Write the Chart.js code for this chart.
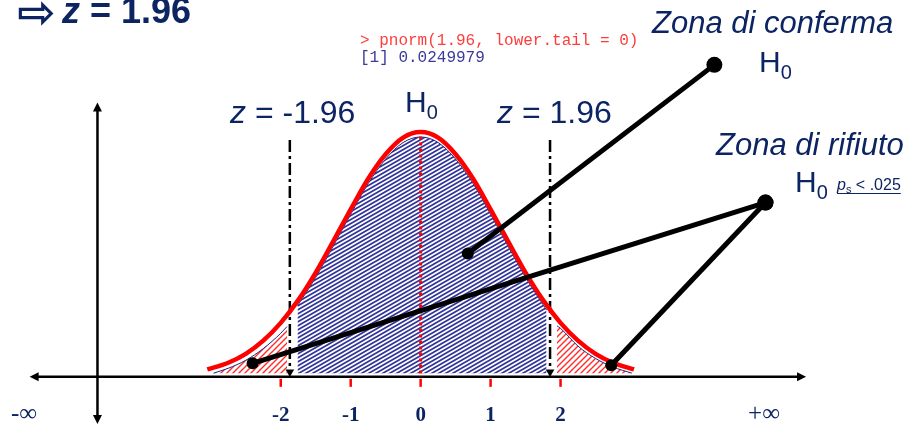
<!DOCTYPE html>
<html><head><meta charset="utf-8">
<script src="https://cdn.jsdelivr.net/npm/chart.js@4/dist/chart.umd.min.js"></script>
<style>html,body{margin:0;padding:0;background:#fff}#wrap{width:912px;height:432px;position:relative}</style>
</head><body><div id="wrap"><canvas id="c"></canvas></div>
<script>
// ---- data (x in z units, y in density units) ----
const curveX = [-3.05,-2.75,-2.5,-2.25,-2,-1.75,-1.5,-1.25,-1,-0.75,-0.5,-0.25,0,0.25,0.5,0.75,1,1.25,1.5,1.75,2,2.25,2.5,2.75,3.05];
const curveY = [0.012,0.023,0.0375,0.059,0.088,0.125,0.170,0.221,0.273,0.323,0.363,0.390,0.399,0.390,0.363,0.323,0.273,0.221,0.170,0.125,0.088,0.059,0.0375,0.023,0.012];
const acceptX = [-1.76,-1.5,-1.25,-1,-0.75,-0.5,-0.25,0,0.25,0.5,0.75,1,1.25,1.5,1.8];
const acceptY = [0.116,0.162,0.213,0.265,0.315,0.355,0.382,0.391,0.382,0.355,0.315,0.265,0.213,0.162,0.109];
const leftTailX = [-2.96,-2.75,-2.5,-2.25,-2,-1.91];
const leftTailY = [0.006,0.014,0.027,0.046,0.071,0.082];
const rightTailX = [1.95,2,2.25,2.5,2.75,3.02];
const rightTailY = [0.083,0.079,0.050,0.030,0.016,0.006];
const regionBase = 0.006;
const criticalX = [-1.87, 1.85];
const criticalTop = 0.386;
const criticalBottom = 0.008;
const centerTop = 0.392;
const tickValues = [-2,-1,0,1,2];
const tickLabels = ['-2','-1','0','1','2'];
const confermaLink = [[4.199,0.5086],[0.674,0.2009]];
const rifiutoLinkL = [[4.930,0.2841],[-2.402,0.0220]];
const rifiutoLinkR = [[4.930,0.2841],[2.725,0.0188]];
const hAxis = [-5.59, 5.51];
const vAxisX = -4.62;
const vAxisY = [-0.0769, 0.4474];

const NAVY = '#0d2463';
const zip = (xs, ys) => xs.map((x, i) => ({x, y: ys[i]}));
const link = l => l.map(p => ({x: p[0], y: p[1]}));

function makePattern(w, h, color, lw, bg) {
  const c = document.createElement('canvas'); c.width = w; c.height = h;
  const g = c.getContext('2d');
  g.fillStyle = bg; g.fillRect(0, 0, w, h);
  g.strokeStyle = color; g.lineWidth = lw; g.beginPath();
  for (const k of [-1, 0, 1]) { g.moveTo(-1, h + k*h + h/w); g.lineTo(w + 1, k*h - h/w); }
  g.stroke();
  return g.createPattern(c, 'repeat');
}
const ctx0 = document.getElementById('c').getContext('2d');
const bluePat = makePattern(7, 4, '#30349a', 1.7, '#ffffff');
const redPat = makePattern(6, 6, '#ff2a2a', 1.4, '#ffffff');

function runs(ctx, x, y, parts) {
  for (const p of parts) {
    ctx.font = p.font; ctx.fillStyle = p.color || NAVY;
    ctx.fillText(p.t, x, y + (p.dy || 0));
    x += ctx.measureText(p.t).width;
  }
  return x;
}

const decor = {
  id: 'decor',
  beforeDatasetsDraw(chart) {
    const {ctx, scales: {x, y}} = chart;
    ctx.save();
    ctx.strokeStyle = '#000'; ctx.fillStyle = '#000'; ctx.lineWidth = 2.5;
    const y0 = y.getPixelForValue(0);
    const xl = x.getPixelForValue(hAxis[0]), xr = x.getPixelForValue(hAxis[1]);
    ctx.beginPath(); ctx.moveTo(xl + 6, y0); ctx.lineTo(xr - 6, y0); ctx.stroke();
    ctx.beginPath(); ctx.moveTo(xl, y0); ctx.lineTo(xl + 9, y0 - 4.5); ctx.lineTo(xl + 9, y0 + 4.5); ctx.closePath(); ctx.fill();
    ctx.beginPath(); ctx.moveTo(xr, y0); ctx.lineTo(xr - 9, y0 - 4.5); ctx.lineTo(xr - 9, y0 + 4.5); ctx.closePath(); ctx.fill();
    const vx = x.getPixelForValue(vAxisX);
    const vt = y.getPixelForValue(vAxisY[1]), vb = y.getPixelForValue(vAxisY[0]);
    ctx.beginPath(); ctx.moveTo(vx, vt + 6); ctx.lineTo(vx, vb - 4); ctx.stroke();
    ctx.beginPath(); ctx.moveTo(vx, vt); ctx.lineTo(vx - 4.5, vt + 9); ctx.lineTo(vx + 4.5, vt + 9); ctx.closePath(); ctx.fill();
    ctx.beginPath(); ctx.moveTo(vx, vb); ctx.lineTo(vx - 4.5, vb - 9); ctx.lineTo(vx + 4.5, vb - 9); ctx.closePath(); ctx.fill();
    // red ticks
    ctx.strokeStyle = '#ff0000'; ctx.lineWidth = 2.5;
    for (const v of tickValues) {
      const px = x.getPixelForValue(v);
      ctx.beginPath(); ctx.moveTo(px, y0 + 2); ctx.lineTo(px, y0 + 10); ctx.stroke();
    }
    ctx.restore();
  },
  afterDraw(chart) {
    const {ctx, scales: {x}} = chart;
    ctx.save();
    ctx.textBaseline = 'alphabetic';
    // tick labels
    ctx.textAlign = 'center'; ctx.fillStyle = NAVY;
    ctx.font = 'bold 21px "Liberation Serif"';
    tickValues.forEach((v, i) => ctx.fillText(tickLabels[i], x.getPixelForValue(v), 421));
    ctx.font = '25px "Liberation Serif"';
    ctx.fillText('-\u221E', 24, 421);
    ctx.fillText('+\u221E', 764, 421);
    ctx.textAlign = 'left';
    // title
    runs(ctx, 17, 28, [{t: '\u21E8', font: 'bold 46px "DejaVu Sans"'}]);
    runs(ctx, 62, 23, [{t: 'z', font: 'italic bold 36px "Liberation Sans"'}, {t: ' = 1.96', font: 'bold 36px "Liberation Sans"'}]);
    // R console
    ctx.font = '16px "Liberation Mono"';
    ctx.fillStyle = '#ff3b3b'; ctx.fillText('> pnorm(1.96, lower.tail = 0)', 360, 45);
    ctx.fillStyle = '#3a3a9a'; ctx.fillText('[1] 0.0249979', 360, 62);
    // critical labels
    runs(ctx, 230, 123, [{t: 'z', font: 'italic 32px "Liberation Sans"'}, {t: ' = -1.96', font: '32px "Liberation Sans"'}]);
    runs(ctx, 497, 123, [{t: 'z', font: 'italic 32px "Liberation Sans"'}, {t: ' = 1.96', font: '32px "Liberation Sans"'}]);
    // H0 labels
    const H0 = (px, py) => runs(ctx, px, py, [{t: 'H', font: '30px "Liberation Sans"'}, {t: '0', font: '20px "Liberation Sans"', dy: 7}]);
    H0(405, 112);
    H0(759, 72);
    H0(795, 192);
    // zona texts
    runs(ctx, 652, 33, [{t: 'Zona di conferma', font: 'italic 31px "Liberation Sans"'}]);
    runs(ctx, 716, 155, [{t: 'Zona di rifiuto', font: 'italic 31px "Liberation Sans"'}]);
    // p_s < .025 underlined
    const sx = 837;
    const ex = runs(ctx, sx, 190, [
      {t: 'p', font: 'italic 16px "Liberation Sans"'},
      {t: 's', font: '11px "Liberation Sans"', dy: 3},
      {t: ' < .025', font: '16px "Liberation Sans"'}
    ]);
    ctx.strokeStyle = NAVY; ctx.lineWidth = 1;
    ctx.beginPath(); ctx.moveTo(sx, 193.5); ctx.lineTo(ex, 193.5); ctx.stroke();
    ctx.restore();
  }
};

const blackLink = (data, order) => ({
  data: link(data), borderColor: '#000', borderWidth: 5, pointRadius: [8, 6],
  pointBackgroundColor: '#000', pointBorderWidth: 0, fill: false, order
});

new Chart(ctx0, {
  type: 'line',
  data: {
    datasets: [
      blackLink(confermaLink, 0),
      blackLink(rifiutoLinkL, 0),
      blackLink(rifiutoLinkR, 0),
      { data: zip(curveX, curveY), borderColor: '#ff0000', borderWidth: 4.5, pointRadius: 0,
        cubicInterpolationMode: 'monotone', fill: false, order: 1 },
      { data: [{x: criticalX[0], y: criticalTop}, {x: criticalX[0], y: criticalBottom}],
        borderColor: '#000', borderWidth: 2.5, borderDash: [12, 4, 3, 4], pointRadius: [0, 5],
        pointStyle: 'triangle', pointRotation: 180, pointBackgroundColor: '#000', pointBorderWidth: 0, fill: false, order: 2 },
      { data: [{x: criticalX[1], y: criticalTop}, {x: criticalX[1], y: criticalBottom}],
        borderColor: '#000', borderWidth: 2.5, borderDash: [12, 4, 3, 4], pointRadius: [0, 5],
        pointStyle: 'triangle', pointRotation: 180, pointBackgroundColor: '#000', pointBorderWidth: 0, fill: false, order: 2 },
      { data: [{x: 0, y: centerTop}, {x: 0, y: 0}], borderColor: '#ff0000', borderWidth: 3,
        borderDash: [3, 3], pointRadius: 0, fill: false, order: 3 },
      { data: zip(acceptX, acceptY), borderColor: '#1f2a80', borderWidth: 1, pointRadius: 0,
        cubicInterpolationMode: 'monotone', backgroundColor: bluePat, fill: {value: regionBase}, order: 4 },
      { data: zip(leftTailX, leftTailY), borderColor: '#1f2a80', borderWidth: 1, pointRadius: 0,
        cubicInterpolationMode: 'monotone', backgroundColor: redPat, fill: {value: regionBase}, order: 4 },
      { data: zip(rightTailX, rightTailY), borderColor: '#1f2a80', borderWidth: 1, pointRadius: 0,
        cubicInterpolationMode: 'monotone', backgroundColor: redPat, fill: {value: regionBase}, order: 4 }
    ]
  },
  options: {
    responsive: true, maintainAspectRatio: false, animation: false, events: [],
    layout: {padding: 0},
    plugins: {legend: {display: false}, tooltip: {enabled: false}},
    scales: {
      x: {type: 'linear', min: -5.899, max: 6.910, display: false},
      y: {type: 'linear', min: -0.0769, max: 0.6013, display: false}
    }
  },
  plugins: [decor]
});
</script></body></html>
